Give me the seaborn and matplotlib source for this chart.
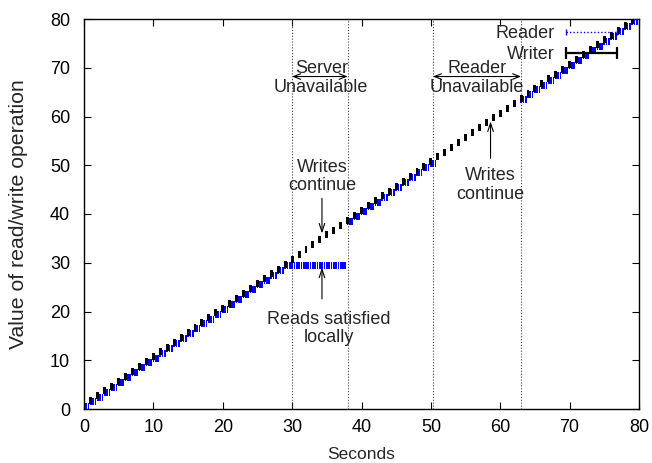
import matplotlib
matplotlib.use("Agg")
import matplotlib.pyplot as plt
from matplotlib.lines import Line2D
import numpy as np
import pandas as pd
import seaborn as sns

# ---------------- data ----------------
writer_seconds = [0, 1, 2, 3, 4, 5, 6, 7, 8, 9, 10, 11, 12, 13, 14, 15, 16, 17, 18, 19,
                  20, 21, 22, 23, 24, 25, 26, 27, 28, 29, 30, 31, 32, 33, 34, 35, 36, 37, 38, 39,
                  40, 41, 42, 43, 44, 45, 46, 47, 48, 49, 50, 51, 52, 53, 54, 55, 56, 57, 58, 59,
                  60, 61, 62, 63, 64, 65, 66, 67, 68, 69, 70, 71, 72, 73, 74, 75, 76, 77, 78, 79]
writer_values = [0, 1, 2, 3, 4, 5, 6, 7, 8, 9, 10, 11, 12, 13, 14, 15, 16, 17, 18, 19,
                 20, 21, 22, 23, 24, 25, 26, 27, 28, 29, 30, 31, 32, 33, 34, 35, 36, 37, 38, 39,
                 40, 41, 42, 43, 44, 45, 46, 47, 48, 49, 50, 51, 52, 53, 54, 55, 56, 57, 58, 59,
                 60, 61, 62, 63, 64, 65, 66, 67, 68, 69, 70, 71, 72, 73, 74, 75, 76, 77, 78, 79]

# reads happen three times per second; value returned in each second
read_offsets = [0.0, 0.33, 0.67]
read_value_by_second = [0, 1, 2, 3, 4, 5, 6, 7, 8, 9, 10, 11, 12, 13, 14, 15, 16, 17, 18, 19,
                        20, 21, 22, 23, 24, 25, 26, 27, 28, 29, 29, 29, 29, 29, 29, 29, 29, 29, 38, 39,
                        40, 41, 42, 43, 44, 45, 46, 47, 48, 49, 50, None, None, None, None, None, None, None, None, None,
                        None, None, None, 63, 64, 65, 66, 67, 68, 69, 70, 71, 72, 73, 74, 75, 76, 77, 78, 79]

event_lines = [30, 38, 50.3, 63]

rows = []
for sec, val in zip(writer_seconds, read_value_by_second):
    if val is None:
        continue
    for off in read_offsets:
        rows.append({"t": sec + off, "v": val})
reads = pd.DataFrame(rows)
writes = pd.DataFrame({"t": writer_seconds, "v": writer_values})

# ---------------- style ----------------
sns.set_style("ticks")
plt.rcParams["font.family"] = ["Liberation Sans", "DejaVu Sans"]
FS = 13          # annotation / legend text
FS_TICK = 13
FS_XLAB = 12.5
FS_YLAB = 15.3

fig = plt.figure(figsize=(6.52, 4.63), dpi=100)
ax = fig.add_axes([84 / 652, 1 - 409 / 463, (639 - 84) / 652, (409 - 19) / 463])

black_marker = [(-1.5, -3.5), (1.5, -3.5), (1.5, 3.5), (-1.5, 3.5)]
blue_marker = [(-0.85, -3.5), (0.85, -3.5), (0.85, 3.5), (-0.85, 3.5)]

sns.scatterplot(x=reads["t"], y=reads["v"] + 0.45, ax=ax, marker=blue_marker,
                s=25, color="#0000ff", linewidth=0, edgecolor="none", legend=False, zorder=3)
sns.scatterplot(x=writes["t"], y=writes["v"] + 0.7, ax=ax, marker=black_marker,
                s=25, color="black", linewidth=0, edgecolor="none", legend=False, zorder=4)

for x in event_lines:
    ax.axvline(x, color="#444444", lw=0.8, ls=(0, (1, 1.6)), zorder=1)

ax.set_xlim(0, 80)
ax.set_ylim(0, 80)
ax.set_xticks(range(0, 81, 10))
ax.set_yticks(range(0, 81, 10))
ax.tick_params(direction="in", length=5, width=0.8, top=True, right=True,
               labelsize=FS_TICK, pad=7, colors="black")
ax.tick_params(axis="y", pad=10)
for sp in ax.spines.values():
    sp.set_visible(True)
    sp.set_linewidth(1.0)
    sp.set_color("black")

ax.set_xlabel("Seconds", fontsize=FS_XLAB, labelpad=8)
ax.set_ylabel("Value of read/write operation", fontsize=FS_YLAB, labelpad=16)

# ---------------- annotations ----------------
LS = 1.12
ax.text(34.2, 67.9, "Server\nUnavailable", ha="center", va="center", fontsize=FS, linespacing=LS)
ax.annotate("", xy=(30, 68.2), xytext=(38, 68.2),
            arrowprops=dict(arrowstyle="<->,head_length=0.5,head_width=0.2", lw=0.8, color="black",
                            shrinkA=0, shrinkB=0))
ax.text(56.6, 67.9, "Reader\nUnavailable", ha="center", va="center", fontsize=FS, linespacing=LS)
ax.annotate("", xy=(50.3, 68.2), xytext=(63, 68.2),
            arrowprops=dict(arrowstyle="<->,head_length=0.5,head_width=0.2", lw=0.8, color="black",
                            shrinkA=0, shrinkB=0))

ax.text(34.3, 47.7, "Writes\ncontinue", ha="center", va="center", fontsize=FS, linespacing=LS)
ax.annotate("", xy=(34.3, 36.0), xytext=(34.3, 43.2),
            arrowprops=dict(arrowstyle="->,head_length=0.6,head_width=0.2", lw=0.8, color="black",
                            shrinkA=0, shrinkB=0))

ax.text(35.3, 16.5, "Reads satisfied\nlocally", ha="center", va="center", fontsize=FS, linespacing=LS)
ax.annotate("", xy=(34.3, 29.0), xytext=(34.3, 22.6),
            arrowprops=dict(arrowstyle="->,head_length=0.6,head_width=0.2", lw=0.8, color="black",
                            shrinkA=0, shrinkB=0))

ax.text(58.6, 45.9, "Writes\ncontinue", ha="center", va="center", fontsize=FS, linespacing=LS)
ax.annotate("", xy=(58.6, 59.0), xytext=(58.6, 51.4),
            arrowprops=dict(arrowstyle="->,head_length=0.6,head_width=0.2", lw=0.8, color="black",
                            shrinkA=0, shrinkB=0))

# ---------------- legend ----------------
h_reader = Line2D([], [], color="#0000ff", lw=1.0, ls=(0, (1, 1.5)), marker="|",
                  markersize=4, markeredgewidth=1.0)
h_writer = Line2D([], [], color="black", lw=1.6, marker="|", markersize=8, markeredgewidth=1.6)
leg = ax.legend([h_reader, h_writer], ["Reader", "Writer"], loc="upper right",
                bbox_to_anchor=(0.970, 0.985), frameon=False, markerfirst=False, numpoints=2,
                handlelength=3.43, handletextpad=0.3, labelspacing=0.25, fontsize=FS,
                borderpad=0, borderaxespad=0)

fig.savefig("out.png", dpi=100)
